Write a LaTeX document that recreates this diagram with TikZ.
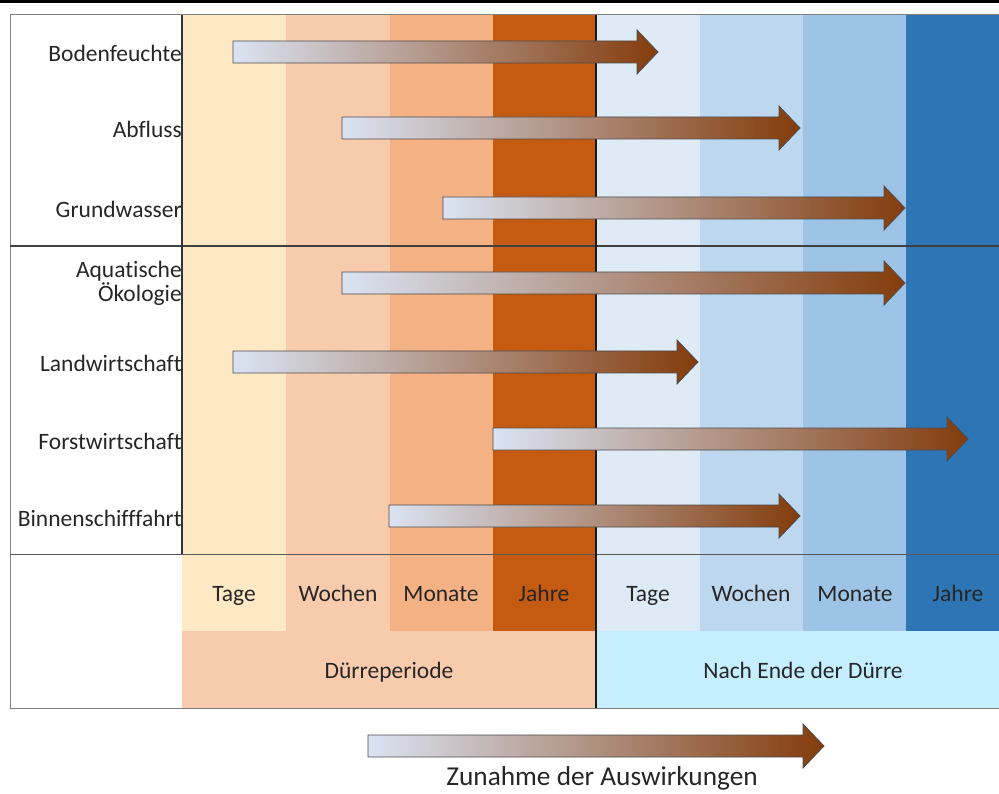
\documentclass[tikz,border=0pt]{standalone}
\usepackage{fontspec}
\setmainfont{Carlito}[Ligatures=CommonOff]
\usetikzlibrary{positioning}

\definecolor{orTage}{HTML}{FFE8C4}
\definecolor{orWochen}{HTML}{F8CBAD}
\definecolor{orMonate}{HTML}{F4B183}
\definecolor{orJahre}{HTML}{C55A11}
\definecolor{blTage}{HTML}{DEEBF7}
\definecolor{blWochen}{HTML}{BDD7EE}
\definecolor{blMonate}{HTML}{9DC3E6}
\definecolor{blJahre}{HTML}{2E75B6}
\definecolor{nachDuerre}{HTML}{C5EEFE}
\definecolor{pfeilHell}{HTML}{DAE3F3}
\definecolor{pfeilDunkel}{HTML}{843C0C}

\tikzset{
  bereich/.style={font=\fontsize{23.5}{24.5}\selectfont, text=black!85, anchor=base, inner sep=0pt},
  zeile/.style={bereich, anchor=base east, align=right},
  pfeilrand/.style={draw=black!70, line width=0.8pt, left color=pfeilHell, right color=pfeilDunkel},
  rahmen/.style={draw=black!50, line width=1pt},
  trenner/.style={draw=black!75, line width=1.3pt}
}

% Pfeil: Start x, Spitze x, Mitte y
\newcommand{\wirkpfeil}[3]{%
  \draw[pfeilrand] (#1,#3-11) -- (#2-21,#3-11) -- (#2-21,#3-22) -- (#2,#3)
    -- (#2-21,#3+22) -- (#2-21,#3+11) -- (#1,#3+11) -- cycle;}

\begin{document}
\begin{tikzpicture}[x=1pt,y=-1pt]
\useasboundingbox (0,0) rectangle (999,794);
\clip (0,0) rectangle (999,794);

% Balken oben
\fill[black] (0,0) rectangle (999,3);

% Zeitspalten
\fill[orTage]   (182,15) rectangle (286,631);
\fill[orWochen] (286,15) rectangle (390,631);
\fill[orMonate] (390,15) rectangle (493,631);
\fill[orJahre]  (493,15) rectangle (596,631);
\fill[blTage]   (596,15) rectangle (700,631);
\fill[blWochen] (700,15) rectangle (803,631);
\fill[blMonate] (803,15) rectangle (906,631);
\fill[blJahre]  (906,15) rectangle (1010,631);

% Perioden
\fill[orWochen]   (182,631) rectangle (596,708);
\fill[nachDuerre] (596,631) rectangle (1010,708);

% Rahmen und Trennlinien
\draw[rahmen] (10,15) rectangle (1010,708);
\draw[trenner] (10,246) -- (1010,246);
\draw[rahmen, draw=black!65] (10,554) -- (1010,554);
\draw[trenner, draw=black!80] (182,15) -- (182,554);
\draw[trenner, draw=black!90] (596,15) -- (596,708);

% Wirkungen
\wirkpfeil{233}{658}{52}
\wirkpfeil{342}{800}{128}
\wirkpfeil{443}{905}{208}
\wirkpfeil{342}{905}{283}
\wirkpfeil{233}{698}{362}
\wirkpfeil{493}{968}{439}
\wirkpfeil{389}{800}{516}

% Beschriftung links
\node[zeile] (boden)   at (182,62)  {Bodenfeuchte};
\node[zeile] (abfluss) at (182,138) {Abfluss};
\node[zeile] (grund)   at (182,218) {Grundwasser};
\node[zeile] (aqua)    at (182,278) {Aquatische};
\node[zeile] (oeko)    at (182,302) {Ökologie};
\node[zeile] (land)    at (182,372) {Landwirtschaft};
\node[zeile] (forst)   at (182,449) {Forstwirtschaft};
\node[zeile] (schiff)  at (182,526) {Binnenschifffahrt};

% Zeitachse
\node[bereich] (t1) at (234,601) {Tage};
\node[bereich] (w1) at (338,601) {Wochen};
\node[bereich] (m1) at (441,601) {Monate};
\node[bereich] (j1) at (544,601) {Jahre};
\node[bereich] (t2) at (648,601) {Tage};
\node[bereich] (w2) at (751,601) {Wochen};
\node[bereich] (m2) at (855,601) {Monate};
\node[bereich] (j2) at (958,601) {Jahre};

\node[bereich] (duerre) at (389,678) {Dürreperiode};
\node[bereich] (nach)   at (803,678) {Nach Ende der Dürre};

% Legende
\wirkpfeil{368}{824}{746}
\node[bereich, font=\fontsize{27.3}{30}\selectfont] (zunahme) at (602,785) {Zunahme der Auswirkungen};
\end{tikzpicture}
\end{document}
